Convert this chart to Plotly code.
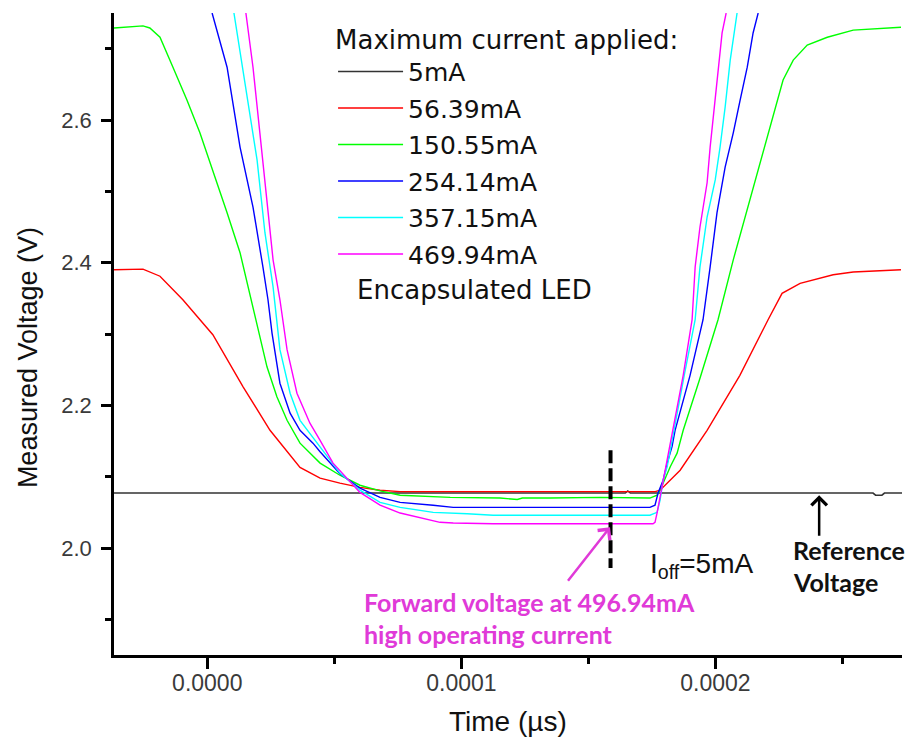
import plotly.graph_objects as go

# Time axis values are stored in units of 1e-5 s
T_SCALE = 1e-5

# Reference (5 mA) trace
t_5 = [-3.67, 16.45, 16.55, 16.65, 26.20, 26.30, 26.55, 26.65, 27.34]
v_5 = [2.077, 2.077, 2.080, 2.077, 2.077, 2.074, 2.074, 2.077, 2.077]

# 56.39 mA
t_56 = [-3.67, -2.53, -1.86, -0.96, 0.22, 1.41, 2.47, 3.26, 3.65, 4.44, 5.22, 6.01, 6.80, 7.59,
        12.00, 17.63, 17.82, 18.61, 19.67, 20.96, 22.07, 22.62, 23.33, 24.63, 25.42, 27.30]
v_56 = [2.390, 2.391, 2.381, 2.348, 2.299, 2.226, 2.165, 2.130, 2.113, 2.098, 2.091, 2.085, 2.081, 2.079,
        2.079, 2.079, 2.081, 2.109, 2.165, 2.242, 2.320, 2.357, 2.371, 2.383, 2.387, 2.390]

# 150.55 mA
t_150 = [-3.67, -2.53, -2.26, -1.86, -1.35, -0.80, -0.29, 0.22, 0.78, 1.29, 1.68, 2.01, 2.35, 2.74,
         3.14, 3.65, 4.44, 5.22, 6.01, 6.80, 7.59, 9.56, 11.52, 12.20, 12.40, 13.49, 15.46, 17.42, 17.70,
         17.82, 18.22, 18.49, 18.73, 19.39, 20.10, 20.70, 21.25, 21.76, 22.27, 22.66, 23.06, 23.61,
         24.40, 25.42, 27.30]
v_150 = [2.729, 2.732, 2.729, 2.716, 2.674, 2.628, 2.582, 2.530, 2.470, 2.414, 2.355, 2.301, 2.254, 2.212,
         2.179, 2.147, 2.119, 2.102, 2.088, 2.080, 2.074, 2.071, 2.070, 2.068, 2.070, 2.070, 2.071, 2.070, 2.074,
         2.081, 2.114, 2.133, 2.165, 2.238, 2.320, 2.404, 2.474, 2.540, 2.604, 2.656, 2.684, 2.705,
         2.716, 2.726, 2.730]

# 254.14 mA
t_254 = [0.19, 0.78, 1.29, 1.80, 2.19, 2.39, 2.55, 2.86, 3.26, 3.65, 4.16, 4.44, 5.22, 6.01, 6.80,
         7.59, 8.89, 9.68, 11.52, 17.42, 17.62, 17.74, 17.94, 18.10, 18.29, 18.41, 19.00, 19.51,
         19.79, 20.06, 20.38, 20.70, 20.97, 21.25, 21.48, 21.68]
v_254 = [2.750, 2.674, 2.562, 2.478, 2.394, 2.348, 2.301, 2.231, 2.189, 2.165, 2.147, 2.135, 2.104, 2.084, 2.071,
         2.064, 2.060, 2.057, 2.057, 2.057, 2.060, 2.077, 2.095, 2.119, 2.142, 2.165, 2.242, 2.320,
         2.394, 2.470, 2.534, 2.582, 2.628, 2.674, 2.722, 2.750]

# 357.15 mA
t_357 = [1.05, 1.29, 1.60, 1.96, 2.27, 2.59, 2.86, 3.26, 3.65, 4.44, 5.22, 6.01, 6.80, 7.59, 8.89,
         10.23, 11.25, 17.42, 17.70, 17.82, 17.94, 18.10, 18.22, 18.33, 18.77, 19.20, 19.39, 19.67,
         19.99, 20.18, 20.38, 20.58, 20.77, 20.85]
v_357 = [2.750, 2.694, 2.628, 2.544, 2.442, 2.366, 2.278, 2.217, 2.179, 2.142, 2.105, 2.081, 2.064, 2.057, 2.050,
         2.048, 2.046, 2.046, 2.050, 2.067, 2.095, 2.114, 2.137, 2.161, 2.242, 2.320, 2.394, 2.464,
         2.516, 2.562, 2.618, 2.684, 2.730, 2.750]

# 469.94 mA
t_469 = [1.52, 1.80, 2.07, 2.35, 2.59, 2.86, 3.14, 3.53, 4.04, 4.44, 4.95, 6.01, 6.80, 7.59, 8.38,
         9.16, 9.68, 11.25, 17.54, 17.62, 17.70, 17.82, 17.94, 18.10, 18.22, 18.33, 18.73, 19.08,
         19.20, 19.39, 19.67, 19.79, 19.99, 20.10, 20.26, 20.42]
v_469 = [2.750, 2.674, 2.582, 2.488, 2.404, 2.348, 2.278, 2.217, 2.175, 2.151, 2.119, 2.078, 2.060, 2.049, 2.042,
         2.036, 2.035, 2.034, 2.034, 2.036, 2.049, 2.071, 2.095, 2.123, 2.147, 2.165, 2.242, 2.320,
         2.394, 2.450, 2.512, 2.562, 2.628, 2.674, 2.722, 2.750]

series = [
    ("5mA", t_5, v_5, "#333333", 1.6),
    ("56.39mA", t_56, v_56, "#ff0000", 1.4),
    ("150.55mA", t_150, v_150, "#00ff00", 1.4),
    ("254.14mA", t_254, v_254, "#0000ff", 1.4),
    ("357.15mA", t_357, v_357, "#00ffff", 1.4),
    ("469.94mA", t_469, v_469, "#ff00ff", 1.4),
]

# Marker annotation positions (time in 1e-5 s, voltage in V)
probe_t = 15.87
probe_v = [2.137, 1.972]
fwd_arrow_head = (15.85, 2.029)
fwd_arrow_tail = (14.15, 1.952)
ref_arrow_head = (24.08, 2.074)
ref_arrow_tail = (24.08, 2.015)

fig = go.Figure()
for name, t, v, color, w in series:
    fig.add_trace(go.Scatter(
        x=[ti * T_SCALE for ti in t], y=v, mode="lines", name=name,
        legendgroup=name, line=dict(color=color, width=w),
    ))

# Dashed probe line at the forward-voltage sampling instant
fig.add_trace(go.Scatter(
    x=[probe_t * T_SCALE, probe_t * T_SCALE], y=probe_v, mode="lines",
    line=dict(color="black", width=4, dash="13px,5px"), showlegend=False, hoverinfo="skip",
))

ann = []
ann.append(dict(x=fwd_arrow_head[0] * T_SCALE, y=fwd_arrow_head[1], ax=fwd_arrow_tail[0] * T_SCALE,
                ay=fwd_arrow_tail[1], xref="x", yref="y", axref="x", ayref="y", text="",
                showarrow=True, arrowhead=4, arrowsize=1.2, arrowwidth=2.5, arrowcolor="#e03ad8"))
ann.append(dict(x=ref_arrow_head[0] * T_SCALE, y=ref_arrow_head[1], ax=ref_arrow_tail[0] * T_SCALE,
                ay=ref_arrow_tail[1], xref="x", yref="y", axref="x", ayref="y", text="",
                showarrow=True, arrowhead=4, arrowsize=1.2, arrowwidth=2.5, arrowcolor="black"))

bold_font = dict(family="Lato", size=25, color="#e03ad8")
ann.append(dict(x=6.09 * T_SCALE, y=1.924, xref="x", yref="y", xanchor="left", yanchor="middle",
                text="<b>Forward voltage at 496.94mA</b>", showarrow=False, font=bold_font))
ann.append(dict(x=6.09 * T_SCALE, y=1.880, xref="x", yref="y", xanchor="left", yanchor="middle",
                text="<b>high operating current</b>", showarrow=False, font=bold_font))
ann.append(dict(x=17.35 * T_SCALE, y=1.976, xref="x", yref="y", xanchor="left", yanchor="middle",
                text="I<sub>off</sub>=5mA", showarrow=False,
                font=dict(family="Liberation Sans", size=28, color="#111111")))
ref_font = dict(family="Lato", size=25, color="#111111")
ann.append(dict(x=22.98 * T_SCALE, y=1.997, xref="x", yref="y", xanchor="left", yanchor="middle",
                text="<b>Reference</b>", showarrow=False, font=ref_font))
ann.append(dict(x=22.98 * T_SCALE, y=1.952, xref="x", yref="y", xanchor="left", yanchor="middle",
                text="<b>Voltage</b>", showarrow=False, font=ref_font))
ann.append(dict(x=5.82 * T_SCALE, y=2.362, xref="x", yref="y", xanchor="left", yanchor="middle",
                text="Encapsulated LED", showarrow=False,
                font=dict(family="DejaVu Sans", size=26, color="#111111")))
# Axis titles
ann.append(dict(x=-0.109, y=0.4626, xref="paper", yref="paper", xanchor="center", yanchor="middle",
                textangle=-90, text="Measured Voltage (V)", showarrow=False,
                font=dict(family="Liberation Sans", size=27, color="#111111")))
ann.append(dict(x=0.5, y=-0.104, xref="paper", yref="paper", xanchor="center", yanchor="middle",
                text="Time (\u00b5s)", showarrow=False,
                font=dict(family="Liberation Sans", size=28, color="#111111")))

fig.update_layout(
    width=913, height=740,
    margin=dict(l=114, r=11, t=13, b=85),
    paper_bgcolor="white", plot_bgcolor="white",
    annotations=ann,
    showlegend=True,
    legend=dict(
        x=0.278, y=0.997, xanchor="left", yanchor="top",
        bgcolor="rgba(0,0,0,0)", borderwidth=0,
        title=dict(text="Maximum current applied:", font=dict(family="DejaVu Sans", size=26, color="#111111")),
        font=dict(family="DejaVu Sans", size=25, color="#111111"),
        itemwidth=65, tracegroupgap=1,
    ),
)

fig.update_xaxes(
    range=[-3.67 * T_SCALE, 27.34 * T_SCALE],
    tick0=0, dtick=10 * T_SCALE, tickformat=".4f",
    showline=True, linewidth=2.5, linecolor="black",
    ticks="outside", ticklen=11, tickwidth=2.5, tickcolor="black",
    minor=dict(dtick=5 * T_SCALE, ticks="outside", ticklen=6, tickwidth=2.5, tickcolor="black"),
    showgrid=False, zeroline=False,
    tickfont=dict(family="Liberation Sans", size=23, color="#3a3a3a"),
    ticklabelstandoff=-5,
)
fig.update_yaxes(
    range=[1.85, 2.75],
    tick0=2.0, dtick=0.2, tickformat=".1f",
    showline=True, linewidth=2.5, linecolor="black",
    ticks="outside", ticklen=10, tickwidth=2.5, tickcolor="black",
    minor=dict(dtick=0.1, ticks="outside", ticklen=6, tickwidth=2.5, tickcolor="black"),
    showgrid=False, zeroline=False,
    tickfont=dict(family="Liberation Sans", size=22, color="#3a3a3a"),
    ticklabelstandoff=5,
)

fig.write_html("out.html")
